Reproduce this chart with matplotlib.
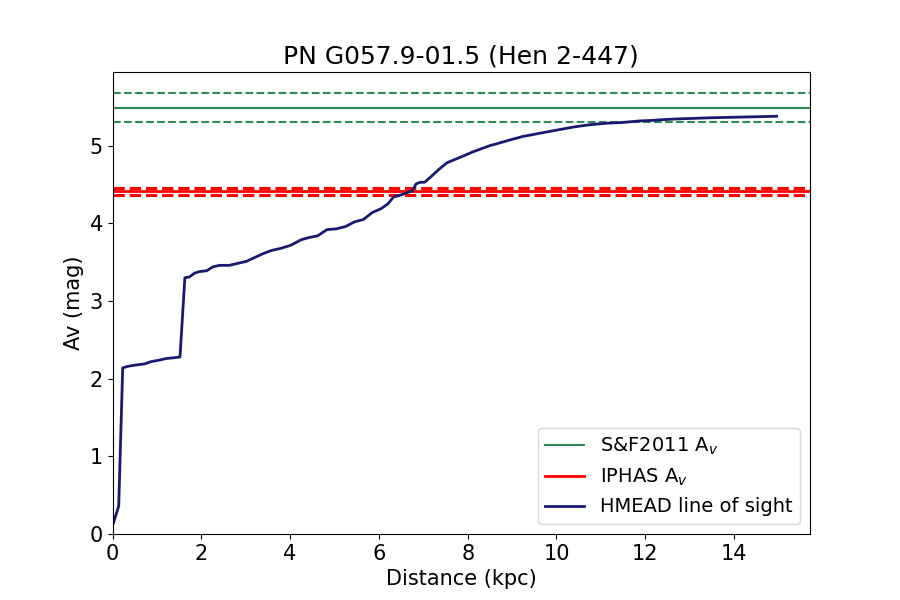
import numpy as np
import matplotlib
matplotlib.use("Agg")
import matplotlib.pyplot as plt

# -- values --
distance = [0.02, 0.14, 0.23, 0.35, 0.57, 0.72, 0.87, 1.06, 1.21, 1.39, 1.52,
            1.63, 1.73, 1.85, 1.96, 2.12, 2.26, 2.41, 2.63, 2.78, 2.93, 3.01,
            3.20, 3.39, 3.57, 3.80, 4.02, 4.25, 4.44, 4.62, 4.83, 5.04, 5.25,
            5.45, 5.65, 5.85, 6.05, 6.20, 6.33, 6.46, 6.61, 6.75, 6.84, 6.93,
            7.03, 7.17, 7.36, 7.53, 7.74, 7.93, 8.11, 8.30, 8.49, 8.68, 8.86,
            9.05, 9.24, 9.43, 9.61, 9.80, 9.99, 10.18, 10.37, 10.55, 10.74,
            10.93, 11.12, 11.30, 11.49, 11.68, 11.87, 12.10, 12.35, 12.69,
            13.05, 13.45, 13.80, 14.20, 14.60, 14.96]
av_los = [0.14, 0.36, 2.14, 2.16, 2.18, 2.19, 2.22, 2.24, 2.26, 2.27, 2.28,
          3.30, 3.31, 3.36, 3.38, 3.39, 3.44, 3.46, 3.46, 3.48, 3.50, 3.51,
          3.56, 3.61, 3.65, 3.68, 3.72, 3.79, 3.82, 3.84, 3.92, 3.93, 3.96,
          4.02, 4.05, 4.14, 4.19, 4.25, 4.34, 4.36, 4.39, 4.42, 4.51, 4.53,
          4.53, 4.60, 4.70, 4.78, 4.83, 4.875, 4.92, 4.96, 5.00, 5.03, 5.06,
          5.09, 5.12, 5.14, 5.16, 5.18, 5.20, 5.22, 5.24, 5.255, 5.27,
          5.28, 5.29, 5.295, 5.30, 5.31, 5.32, 5.325, 5.335, 5.345,
          5.352, 5.36, 5.365, 5.37, 5.375, 5.38]

sf_av, sf_lo, sf_hi = 5.49, 5.30, 5.68
iphas_av, iphas_lo, iphas_hi = 4.415, 4.37, 4.46

fig, ax = plt.subplots(figsize=(9, 6), dpi=100)

ax.axhline(sf_av, color="seagreen", lw=1.5, label="S&F2011 A$_v$")
ax.axhline(sf_lo, color="seagreen", lw=1.5, ls="--")
ax.axhline(sf_hi, color="seagreen", lw=1.5, ls="--")

ax.axhline(iphas_av, color="red", lw=2, label="IPHAS A$_v$")
ax.axhline(iphas_lo, color="red", lw=2.2, ls="--")
ax.axhline(iphas_hi, color="red", lw=2.2, ls="--")

ax.plot(distance, av_los, color="midnightblue", lw=2, label="HMEAD line of sight")

ax.set_xlim(left=0, right=15.71)
ax.set_ylim(bottom=0, top=5.95)
ax.set_title("PN G057.9-01.5 (Hen 2-447)", fontsize=18)
ax.set_xlabel("Distance (kpc)", fontsize=15)
ax.set_ylabel("Av (mag)", fontsize=15)
ax.tick_params(labelsize=15)
ax.legend(loc="lower right", fontsize=14)

fig.savefig("out.png")
